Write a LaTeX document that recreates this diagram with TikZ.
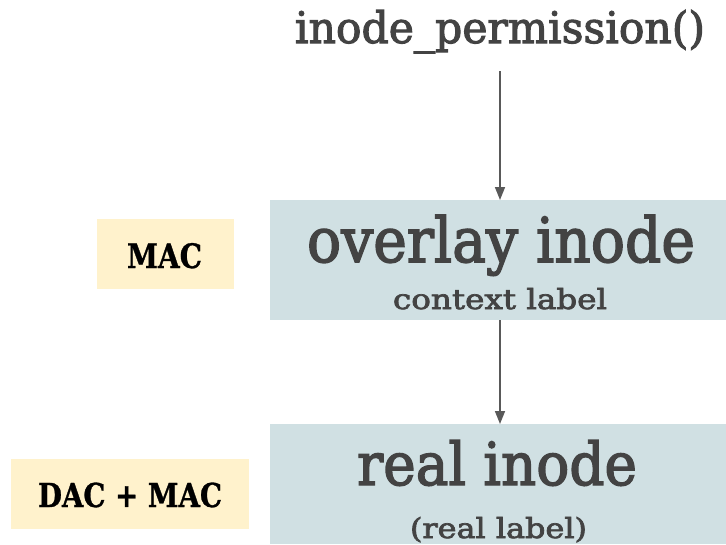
\documentclass[tikz,border=0pt]{standalone}
\usepackage{fontspec}
\setmainfont{DejaVu Serif}
\newfontfamily\mainsemi[FakeBold=2.5]{DejaVu Serif}
\newfontfamily\mainbold[FakeBold=1]{DejaVu Serif Bold}
\usetikzlibrary{arrows.meta}
\definecolor{boxblue}{HTML}{D0E0E3}
\definecolor{boxyellow}{HTML}{FFF2CC}
\definecolor{tgrey}{HTML}{434343}
\definecolor{agrey}{HTML}{595959}
\tikzset{
  bluebox/.style={rectangle, fill=boxblue, draw=none, inner sep=0, anchor=north west},
  yellowbox/.style={rectangle, fill=boxyellow, draw=none, inner sep=0, anchor=north west},
  txt/.style={anchor=base, inner sep=0, text=tgrey, font=\mainsemi},
  btxt/.style={anchor=base, inner sep=0, text=black, font=\mainbold},
  arr/.style={draw=agrey, line width=1.6pt, -{Triangle[width=10pt,length=13pt]}}
}
\begin{document}
\begin{tikzpicture}[x=1pt,y=-1pt]
\useasboundingbox (0,0) rectangle (726,544);
% boxes
\node[bluebox, minimum width=456pt, minimum height=120pt] (overlay) at (270,200) {};
\node[bluebox, minimum width=456pt, minimum height=120pt] (real) at (270,424) {};
\node[yellowbox, minimum width=137pt, minimum height=70pt] (macbox) at (97,219) {};
\node[yellowbox, minimum width=238pt, minimum height=70pt] (dacbox) at (11,459) {};
% texts
\node[txt] (title) at (500,43) {\fontsize{40}{48}\selectfont\resizebox{410pt}{33pt}{inode\_permission()}};
\node[txt] (ovname) at (501,262) {\fontsize{60}{70}\selectfont\resizebox{388pt}{47pt}{overlay inode}};
\node[txt] (ovlabel) at (500,309) {\fontsize{28}{34}\selectfont\resizebox{214pt}{21pt}{context label}};
\node[txt] (rlname) at (497,485) {\fontsize{60}{70}\selectfont\resizebox{280pt}{45pt}{real inode}};
\node[txt] (rllabel) at (498.5,538) {\fontsize{28}{34}\selectfont\resizebox{177pt}{21pt}{(real label)}};
\node[btxt] (mac) at (164.5,268) {\fontsize{34}{40}\selectfont\resizebox{75pt}{25pt}{MAC}};
\node[btxt] (dacmac) at (130,507) {\fontsize{34}{40}\selectfont\resizebox{184pt}{24.5pt}{DAC + MAC}};
% connectors
\coordinate (start) at (500,71);
\draw[arr] (start) -- (start |- overlay.north);
\draw[arr] (start |- overlay.south) -- (start |- real.north);
\end{tikzpicture}
\end{document}
